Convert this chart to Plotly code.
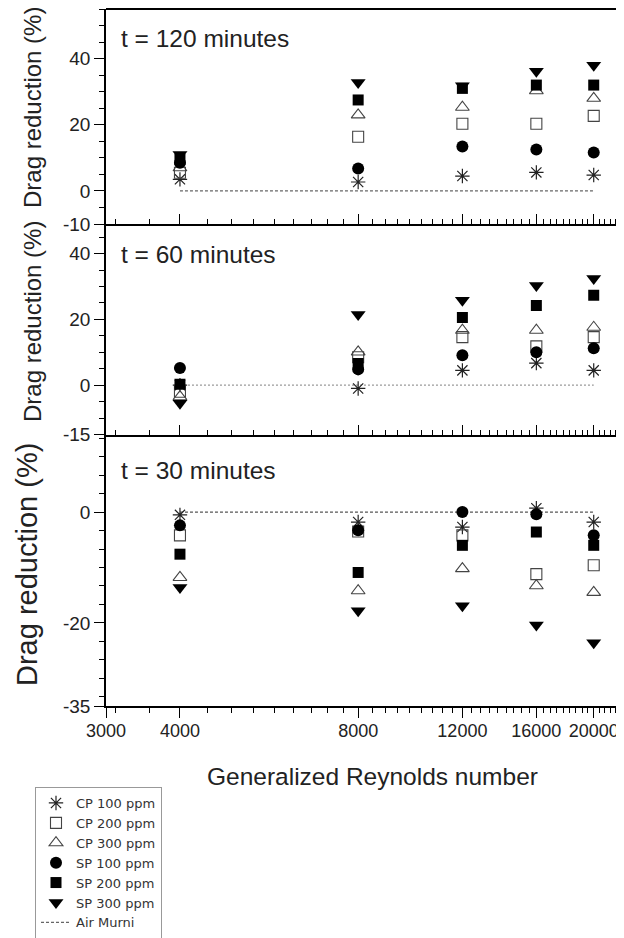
import math
import plotly.graph_objects as go

# ---------------- data ----------------
reynolds = [4000, 8000, 12000, 16000, 20000]
series_names = ["CP 100 ppm", "CP 200 ppm", "CP 300 ppm", "SP 100 ppm", "SP 200 ppm", "SP 300 ppm"]

# t = 120 minutes
dr120_cp100 = [3.5, 2.7, 4.5, 5.6, 4.8]
dr120_cp200 = [5.5, 16.4, 20.3, 20.3, 22.7]
dr120_cp300 = [7.0, 23.0, 25.3, 30.3, 28.0]
dr120_sp100 = [8.5, 6.8, 13.4, 12.5, 11.6]
dr120_sp200 = [9.5, 27.5, 31.0, 32.0, 32.0]
dr120_sp300 = [11.0, 32.8, 31.8, 36.2, 38.0]

# t = 60 minutes
dr60_cp100 = [0.0, -1.0, 4.5, 6.7, 4.5]
dr60_cp200 = [-2.0, 8.5, 14.6, 11.8, 14.6]
dr60_cp300 = [-3.5, 10.1, 16.7, 16.7, 17.6]
dr60_sp100 = [5.2, 4.8, 9.1, 10.0, 11.2]
dr60_sp200 = [0.3, 6.6, 20.6, 24.2, 27.3]
dr60_sp300 = [-5.5, 21.5, 25.8, 30.3, 32.4]

# t = 30 minutes
dr30_cp100 = [-0.5, -1.8, -2.7, 0.7, -1.8]
dr30_cp200 = [-4.2, -3.5, -4.2, -11.2, -9.6]
dr30_cp300 = [-11.8, -14.2, -10.2, -13.3, -14.5]
dr30_sp100 = [-2.4, -3.3, 0.0, -0.4, -4.2]
dr30_sp200 = [-7.6, -10.9, -6.0, -3.6, -6.0]
dr30_sp300 = [-13.6, -17.8, -16.9, -20.4, -23.6]

air_x = [4000, 20000]
air_y = [0, 0]
air_name = "Air Murni"

panel_titles = ["t = 120 minutes", "t = 60 minutes", "t = 30 minutes"]
x_tickvals = [3000, 4000, 8000, 12000, 16000, 20000]
x_ticktext = ["3000", "4000", "8000", "12000", "16000", "20000"]
y1_tickvals = [-10, 0, 20, 40]
y2_tickvals = [-15, 0, 20, 40]
y3_tickvals = [-35, -20, 0]

panels = [
    [dr120_cp100, dr120_cp200, dr120_cp300, dr120_sp100, dr120_sp200, dr120_sp300],
    [dr60_cp100, dr60_cp200, dr60_cp300, dr60_sp100, dr60_sp200, dr60_sp300],
    [dr30_cp100, dr30_cp200, dr30_cp300, dr30_sp100, dr30_sp200, dr30_sp300],
]

# ---------------- styles ----------------
FONT = "Liberation Sans, Arial, Helvetica, sans-serif"
OFF = 8                      # page body margin offset
W, H = 624 - OFF, 938 - OFF
REF_L, REF_T, REF_B = 106, 9, 706   # plot area in screen pixels
ML, MR, MT, MB = REF_L - OFF, 0, REF_T - OFF, H - (REF_B - OFF)
PW, PH = W - ML - MR, H - MT - MB

def px_x(px):
    return (px - REF_L) / PW

def px_y(py):
    return 1 - (py - REF_T) / PH

marker_styles = [
    dict(symbol="asterisk-open", size=12, color="#222", line=dict(color="#222", width=1.2)),
    dict(symbol="square-open", size=11, color="#444", line=dict(color="#444", width=1.1)),
    dict(symbol="triangle-up-open", size=12, color="#444", line=dict(color="#444", width=1.1)),
    dict(symbol="circle", size=12, color="black", line=dict(width=0)),
    dict(symbol="square", size=11, color="black", line=dict(width=0)),
    dict(symbol="triangle-down", size=13, color="black", line=dict(width=0)),
]
air_styles = [
    dict(color="#666", width=1.2, dash="3px,2px"),
    dict(color="#999", width=1.2, dash="2px,2px"),
    dict(color="#555", width=1.2, dash="3px,2px"),
]

fig = go.Figure()

axes_ids = [("x", "y"), ("x2", "y2"), ("x3", "y3")]

for p, (xa, ya) in enumerate(axes_ids):
    fig.add_trace(go.Scatter(
        x=air_x, y=air_y, mode="lines", name=air_name,
        line=air_styles[p],
        xaxis=xa, yaxis=ya, showlegend=(p == 0), legendrank=7,
        hoverinfo="skip",
    ))

for p, (xa, ya) in enumerate(axes_ids):
    for s, vals in enumerate(panels[p]):
        fig.add_trace(go.Scatter(
            x=reynolds, y=vals, mode="markers", name=series_names[s],
            marker=marker_styles[s], xaxis=xa, yaxis=ya,
            showlegend=(p == 0), legendrank=s + 1,
        ))

xr = [math.log10(3000), math.log10(22500)]
minor_x = [4000 + k * 4000 / 9 for k in range(-2, 42)]

def xaxis_cfg(anchor, show_labels, ticks):
    return dict(
        type="log", range=xr, anchor=anchor, domain=[0, 1], automargin=False,
        showline=True, linecolor="black", linewidth=1.5, mirror=False,
        ticks=ticks, ticklen=10, tickwidth=1.2, tickcolor="black",
        tickmode="array", tickvals=x_tickvals, ticktext=x_ticktext,
        showticklabels=show_labels, tickangle=0, ticklabeloverflow="allow",
        tickfont=dict(family=FONT, size=18, color="#222"),
        minor=dict(tickmode="array", tickvals=minor_x, ticks=ticks, ticklen=5,
                   tickwidth=1, tickcolor="black", showgrid=False),
        showgrid=False, zeroline=False, ticklabelstandoff=-2,
    )

def yaxis_cfg(anchor, dom, rng, tv, minor_vals):
    return dict(
        anchor=anchor, domain=dom, range=rng, automargin=False,
        showline=True, linecolor="black", linewidth=1.5,
        ticks="outside", ticklen=10, tickwidth=1.2, tickcolor="black",
        tickmode="array", tickvals=tv, ticktext=[str(v) for v in tv],
        tickfont=dict(family=FONT, size=19, color="#222"),
        minor=dict(tickmode="array", tickvals=minor_vals, ticks="outside", ticklen=5,
                   tickwidth=1, tickcolor="black", showgrid=False),
        showgrid=False, zeroline=False,
    )

d1 = [px_y(224), 1.0]
d2 = [px_y(434.5), px_y(224)]
d3 = [0.0, px_y(434.5)]

minor_y1 = list(range(-10, 56, 5))
minor_y2 = list(range(-15, 50, 5))
minor_y3 = [k * 10 / 3 for k in range(-10, 5)]

fig.update_layout(
    template="none",
    width=W, height=H,
    margin=dict(l=ML, r=MR, t=MT, b=MB, pad=0, autoexpand=False),
    paper_bgcolor="white", plot_bgcolor="white",
    font=dict(family=FONT, color="#222"),
    xaxis=xaxis_cfg("y", False, "inside"),
    xaxis2=xaxis_cfg("y2", False, "inside"),
    xaxis3=xaxis_cfg("y3", True, "outside"),
    yaxis=yaxis_cfg("x", d1, [-10, 55], y1_tickvals, minor_y1),
    yaxis2=yaxis_cfg("x2", d2, [-15, 49], y2_tickvals, minor_y2),
    yaxis3=yaxis_cfg("x3", d3, [-35, 14], y3_tickvals, minor_y3),
    legend=dict(
        x=px_x(35), y=px_y(787), xanchor="left", yanchor="top",
        bordercolor="#999", borderwidth=1, bgcolor="white",
        font=dict(family="DejaVu Sans", size=13, color="#333"),
        itemwidth=30, tracegroupgap=0,
    ),
    showlegend=True,
)

fig.add_shape(type="line", xref="paper", yref="paper", x0=0, x1=1, y0=1, y1=1,
              line=dict(color="black", width=2))

for title, py in zip(panel_titles, [38, 254, 470]):
    fig.add_annotation(text=title, xref="paper", yref="paper", x=px_x(119), y=px_y(py),
                       xanchor="left", yanchor="middle", showarrow=False,
                       font=dict(family=FONT, size=24.5, color="#222"))

for (cx, cy, fs) in [(32, 108, 24), (32, 322, 24), (27, 565, 29)]:
    fig.add_annotation(text="Drag reduction (%)", xref="paper", yref="paper",
                       x=px_x(cx), y=px_y(cy), xanchor="center", yanchor="middle",
                       textangle=-90, showarrow=False,
                       font=dict(family=FONT, size=fs, color="#222"))

fig.add_annotation(text="Generalized Reynolds number", xref="paper", yref="paper",
                   x=px_x(372), y=px_y(776), xanchor="center", yanchor="middle",
                   showarrow=False, font=dict(family=FONT, size=24.5, color="#222"))

fig.write_html("out.html")
